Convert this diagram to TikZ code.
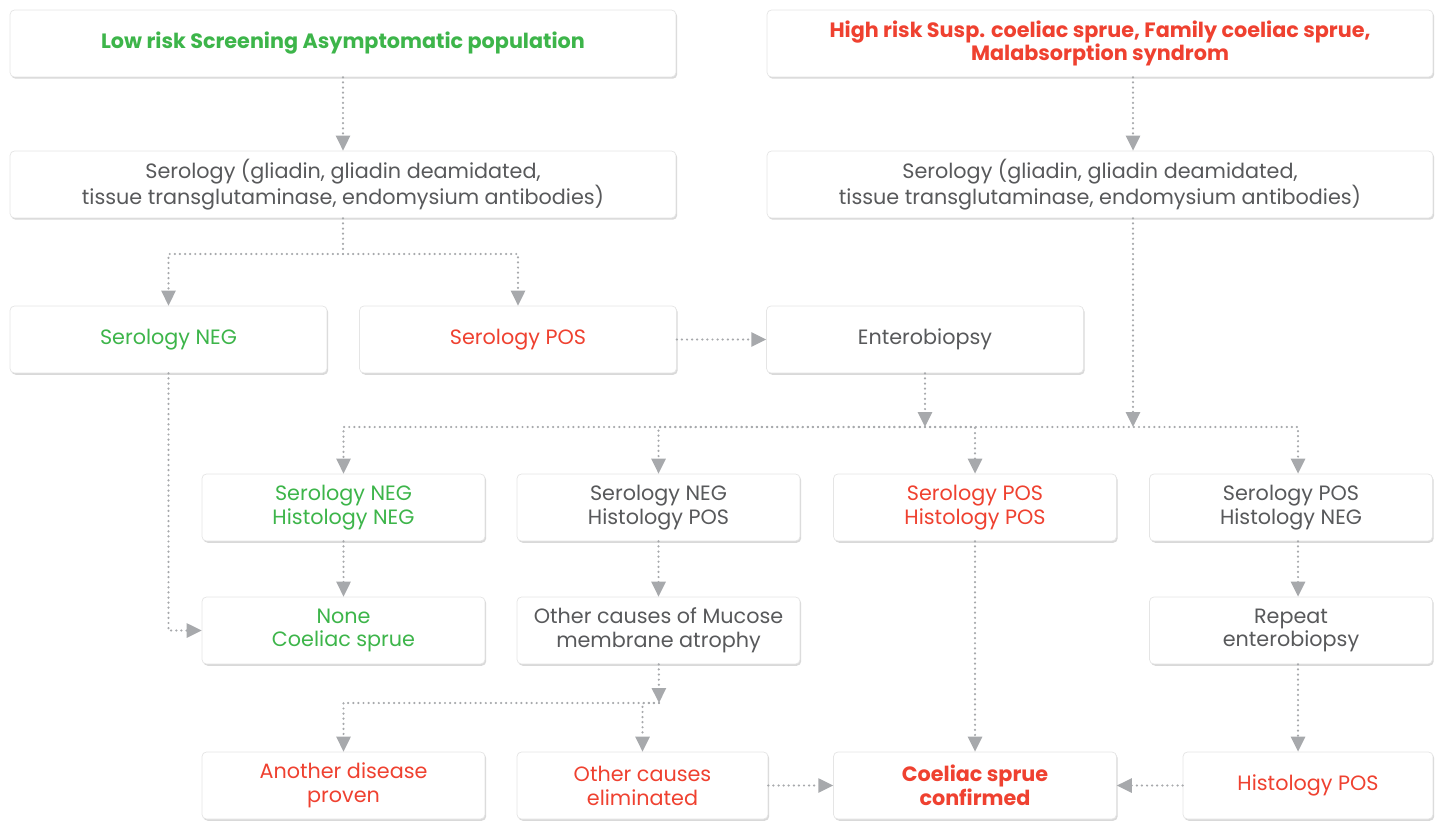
\documentclass[tikz,border=0pt]{standalone}
\usepackage{fontspec}
\setmainfont{Poppins}
\usepackage{tikz}
\usetikzlibrary{arrows.meta,shadows,positioning}
\usepackage{xcolor}
\definecolor{ckgreen}{RGB}{61,181,74}
\definecolor{ckred}{RGB}{239,65,48}
\definecolor{cktext}{RGB}{88,89,91}
\definecolor{ckline}{RGB}{167,169,172}
\tikzstyle{box} = [rectangle, rounded corners=2.5pt, draw=black!10, fill=white, drop shadow={opacity=0.3, shadow xshift=0.7pt, shadow yshift=-1pt}, align=center, font=\fontsize{11.8}{13.6}\selectfont, text=cktext, minimum height=1.34cm, inner sep=2pt]
\tikzstyle{wide} = [box, minimum width=13.32cm]
\tikzstyle{mid} = [box, minimum width=6.34cm]
\tikzstyle{small} = [box, minimum width=5.66cm]
\tikzstyle{bold} = [font=\fontsize{11.8}{13.6}\selectfont\bfseries]
\tikzstyle{link} = [ckline, line width=1.4pt, dash pattern=on 0pt off 2.9pt, line cap=round]
\tikzstyle{flow} = [link, -{Triangle[width=8pt,length=8.5pt]}]

\begin{document}
\begin{tikzpicture}[x=0.02cm, y=-0.02cm]
    \useasboundingbox (0,0) rectangle (1443,824);

    % Top row
    \node[wide, bold, text=ckgreen] (low) at (343,43.5) {Low risk Screening Asymptomatic population};
    \node[wide, bold, text=ckred] (high) at (1100,43.5) {High risk Susp. coeliac sprue, Family coeliac sprue,\\Malabsorption syndrom};

    % Serology
    \node[wide] (serL) at (343,184.5) {Serology (gliadin, gliadin deamidated,\\tissue transglutaminase, endomysium antibodies)};
    \node[wide] (serR) at (1100,184.5) {Serology (gliadin, gliadin deamidated,\\tissue transglutaminase, endomysium antibodies)};

    % Screening results
    \node[mid, text=ckgreen] (negA) at (168.5,339.5) {Serology NEG};
    \node[mid, text=ckred] (posA) at (518,339.5) {Serology POS};
    \node[mid] (entero) at (925,339.5) {Enterobiopsy};

    % Combined results
    \node[small, text=ckgreen] (r4a) at (343.5,507.5) {Serology NEG\\Histology NEG};
    \node[small] (r4b) at (658.5,507.5) {Serology NEG\\Histology POS};
    \node[small, text=ckred] (r4c) at (975,507.5) {Serology POS\\Histology POS};
    \node[small] (r4d) at (1291,507.5) {Serology POS\\Histology NEG};

    \node[small, text=ckgreen] (r5a) at (343.5,630.5) {None\\Coeliac sprue};
    \node[small] (r5b) at (658.5,630.5) {Other causes of Mucose\\membrane atrophy};
    \node[small] (r5c) at (1291,630.5) {Repeat\\enterobiopsy};

    % Outcomes
    \node[small, text=ckred] (r6a) at (343.5,785.5) {Another disease\\proven};
    \node[box, minimum width=5.02cm, text=ckred] (r6b) at (642.5,785.5) {Other causes\\eliminated};
    \node[small, bold, text=ckred] (r6c) at (975,785.5) {Coeliac sprue\\confirmed};
    \node[box, minimum width=5cm, text=ckred] (r6d) at (1308,785.5) {Histology POS};

    % Junctions
    \coordinate (split1) at (343,254);
    \coordinate (bar) at (925,427);
    \coordinate (split2) at (659,703);

    % Connectors
    \draw[flow] (low) -- (serL);
    \draw[flow] ([xshift=0.66cm]high.south) -- ([xshift=0.66cm]serR.north);
    \draw[link] (serL) -- (split1);
    \foreach \n in {negA,posA}
        \draw[flow] (split1) -| (\n);
    \draw[flow] (posA) -- (entero);
    \draw[flow] (negA) |- (r5a);
    \draw[flow] (entero) -- (bar);
    \draw[flow] ([xshift=0.66cm]serR.south) -- ([xshift=0.66cm]serR.south |- bar);
    \foreach \n in {r4a,r4b,r4c}
        \draw[flow] (bar) -| (\n);
    \draw[flow] (bar) -| ([xshift=0.14cm]r4d.north);
    \draw[flow] (r4a) -- (r5a);
    \draw[flow] (r4b) -- (r5b);
    \draw[flow] (r4c) -- (r6c);
    \draw[flow] ([xshift=0.14cm]r4d.south) -- ([xshift=0.14cm]r5c.north);
    \draw[flow] ([xshift=0.14cm]r5c.south) -- ([xshift=0.14cm]r5c.south |- r6d.north);
    \draw[flow] (r5b) -- (split2);
    \foreach \n in {r6a,r6b}
        \draw[flow] (split2) -| (\n);
    \draw[flow] (r6b) -- (r6c);
    \draw[flow] (r6d) -- (r6c);
\end{tikzpicture}
\end{document}
